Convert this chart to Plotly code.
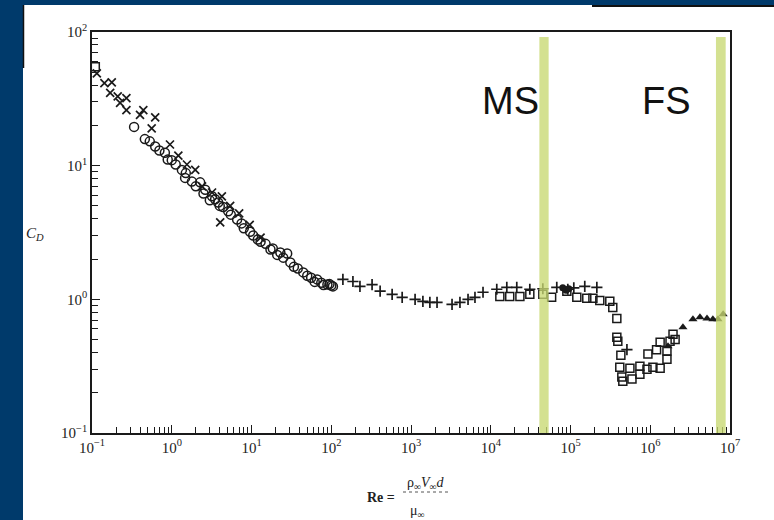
import math
import plotly.graph_objects as go

# Drag coefficient of a circular cylinder versus Reynolds number

# "x" symbols (low Re)
cross_re = [0.115, 0.143, 0.177, 0.169, 0.21, 0.225, 0.27, 0.27, 0.44, 0.40, 0.62, 0.56,
            0.95, 1.21, 1.55, 1.97, 2.4, 3.2, 4.25, 5.4, 4.05, 7.0, 9.5, 13.0]
cross_cd = [49, 41.4, 42, 35, 33, 29.5, 32, 26, 26, 24, 23, 19,
            14.4, 11.9, 10.2, 9.3, 7.0, 6.3, 5.9, 5.0, 3.76, 4.4, 3.6, 2.9]

# open circles
circle_re = [0.337, 0.46, 0.53, 0.62, 0.82, 0.89, 1.12, 1.34, 1.47, 1.79, 2.27, 2.63,
             3.2, 3.82, 4.4, 5.1, 6.6, 9.6, 13.0, 17.3, 23.0, 30.7, 44.6, 66.5, 89.5, 105,
             0.7, 1.0, 1.5, 2.0, 2.5, 3.0, 3.5, 4.0, 5.5, 7.5, 8.0, 10.5, 12.0, 15.0, 18.5,
             21.0, 25.0, 28.0, 34.0, 38.0, 50.0, 56.0, 62.0, 75.0, 80.0, 95.0, 100.0]
circle_cd = [19.5, 15.8, 15.2, 13.9, 12.5, 11.1, 10.2, 9.3, 8.1, 7.6, 7.5, 6.6,
             5.9, 5.3, 4.9, 4.56, 3.95, 3.2, 2.7, 2.36, 2.24, 1.89, 1.59, 1.41, 1.29, 1.25,
             13.0, 11.0, 8.8, 7.0, 6.2, 5.5, 5.6, 5.0, 4.3, 3.7, 3.4, 3.0, 2.8, 2.6, 2.4,
             2.15, 2.05, 2.2, 1.75, 1.7, 1.5, 1.45, 1.35, 1.33, 1.28, 1.3, 1.27]

# "+" symbols (intermediate Re)
plus_re = [140, 187, 229, 325, 410, 580, 775, 1125, 1410, 1725, 2120, 3270, 4110,
           5190, 6340, 8000, 11900, 15900, 21200, 30900, 45000, 67300, 92500, 110000,
           151000, 214000, 510000]
plus_cd = [1.41, 1.36, 1.25, 1.29, 1.15, 1.09, 1.035, 1.0, 0.966, 0.95, 0.95, 0.918, 0.95,
           1.0, 1.035, 1.13, 1.19, 1.23, 1.23, 1.19, 1.2, 1.23, 1.19, 1.22,
           1.25, 1.23, 0.42]

# open squares (high Re, drag crisis)
square_re = [0.11, 13000, 17300, 23200, 30900, 45000, 58000, 90000, 120000, 160000, 191000,
             233000, 311000, 339000, 381000, 381000, 392000, 428000, 415000, 440000,
             453000, 590000, 556000, 742000, 742000, 910000, 935000, 1.08e6, 1.2e6,
             1.33e6, 1.33e6, 1.62e6, 1.62e6, 1.77e6, 1.93e6, 2.05e6]
square_cd = [55, 1.05, 1.05, 1.05, 1.09, 1.09, 1.035, 1.15, 1.035, 1.02, 1.02,
             0.98, 0.966, 0.87, 0.72, 0.52, 0.486, 0.382, 0.311, 0.262,
             0.244, 0.253, 0.305, 0.275, 0.316, 0.30, 0.39, 0.31, 0.42,
             0.305, 0.478, 0.357, 0.41, 0.486, 0.548, 0.50]

# filled triangles (supercritical)
tri_re = [1.67e6, 2.57e6, 3.43e6, 4.2e6, 5.15e6, 6.1e6, 7.07e6, 8.2e6]
tri_cd = [0.446, 0.618, 0.71, 0.734, 0.72, 0.71, 0.71, 0.773]

# filled circles
dot_re = [80000, 88000, 95000]
dot_cd = [1.22, 1.17, 1.2]

# Reynolds-number bands of the two test facilities
ms_band = [40700, 53200]
fs_band = [6.67e6, 8.83e6]

x_tickvals = [1e-1, 1e0, 1e1, 1e2, 1e3, 1e4, 1e5, 1e6, 1e7]
x_ticktext = ["10<sup>−1</sup>", "10<sup>0</sup>", "10<sup>1</sup>", "10<sup>2</sup>",
              "10<sup>3</sup>", "10<sup>4</sup>", "10<sup>5</sup>", "10<sup>6</sup>",
              "10<sup>7</sup>"]
y_tickvals = [1e-1, 1e0, 1e1, 1e2]
y_ticktext = ["10<sup>−1</sup>", "10<sup>0</sup>", "10<sup>1</sup>", "10<sup>2</sup>"]

X_RANGE = [-1, 7]
Y_RANGE = [-1, 2]

# pixel frame of the plotting area
W, H = 774, 520
L, R, T, B = 92, 44, 32, 87
PW, PH = W - L - R, H - T - B


def px_x(p):
    return (p - L) / PW


def px_y(p):
    return (H - B - p) / PH


def re_to_paper(v):
    return (math.log10(v) - X_RANGE[0]) / (X_RANGE[1] - X_RANGE[0])


INK = "#1a1a1a"
fig = go.Figure()


def add(xs, ys, symbol, size, lw=1.6):
    fig.add_trace(go.Scatter(
        x=xs, y=ys, mode="markers",
        marker=dict(symbol=symbol, size=size, color=INK,
                    line=dict(color=INK, width=lw)),
        showlegend=False, hoverinfo="skip"))


add(circle_re, circle_cd, "circle-open", 9, 1.5)
add(cross_re, cross_cd, "x-thin", 8, 1.7)
add(plus_re, plus_cd, "cross-thin", 8, 1.7)
add(square_re, square_cd, "square-open", 8, 1.5)
add(tri_re, tri_cd, "triangle-up", 8, 0)
add(dot_re, dot_cd, "circle", 7, 0)

shapes = []
# frame of the slide
navy = "#003A6B"
shapes.append(dict(type="rect", xref="paper", yref="paper", layer="above",
                   x0=px_x(0), x1=px_x(23), y0=px_y(H), y1=px_y(0),
                   fillcolor=navy, line=dict(width=0)))
shapes.append(dict(type="rect", xref="paper", yref="paper", layer="above",
                   x0=px_x(0), x1=px_x(W), y0=px_y(5), y1=px_y(0),
                   fillcolor=navy, line=dict(width=0)))
shapes.append(dict(type="line", xref="paper", yref="paper", layer="above",
                   x0=px_x(23.5), x1=px_x(23.5), y0=px_y(5), y1=px_y(68),
                   line=dict(color="#111", width=1.5)))
shapes.append(dict(type="line", xref="paper", yref="paper", layer="above",
                   x0=px_x(592), x1=px_x(W), y0=px_y(6), y1=px_y(6),
                   line=dict(color="#111", width=2)))

# highlighted bands
for lo, hi in (ms_band, fs_band):
    shapes.append(dict(type="rect", xref="paper", yref="paper", layer="above",
                       x0=re_to_paper(lo), x1=re_to_paper(hi),
                       y0=0, y1=px_y(37), opacity=0.78,
                       fillcolor="#C8D972", line=dict(width=0)))

# fraction bar of the Reynolds-number definition
shapes.append(dict(type="line", xref="paper", yref="paper",
                   x0=px_x(403), x1=px_x(450), y0=px_y(492), y1=px_y(492),
                   line=dict(color="#555", width=1, dash="dot")))

serif = "Liberation Serif"


def label(text, cx, cy, family, size, color="#222"):
    return dict(text=text, x=px_x(cx), y=px_y(cy), xref="paper", yref="paper",
                xanchor="center", yanchor="middle", showarrow=False,
                font=dict(family=family, size=size, color=color))


annotations = [
    label("MS", 510, 101, "Liberation Sans", 38, "#111"),
    label("FS", 666, 101, "Liberation Sans", 38, "#111"),
    label("<i>C<sub>D</sub></i>", 35, 234, serif, 15),
    label("<b>Re =</b>", 381, 497, serif, 14),
    label("ρ<sub>∞</sub><i>V</i><sub>∞</sub><i>d</i>", 426, 483, serif, 14),
    label("μ<sub>∞</sub>", 417, 511, serif, 14),
]

axis_common = dict(
    showline=True, linecolor=INK, linewidth=1.5, mirror=True,
    showgrid=False, zeroline=False,
    ticks="inside", ticklen=8, tickcolor=INK, tickwidth=1.2,
    tickfont=dict(family=serif, size=15, color="#222"),
)

fig.update_layout(
    width=W, height=H,
    margin=dict(l=L, r=R, t=T, b=B, pad=0),
    paper_bgcolor="white", plot_bgcolor="white",
    xaxis=dict(type="log", range=X_RANGE, tickmode="array",
               tickvals=x_tickvals, ticktext=x_ticktext,
               minor=dict(ticks="inside", ticklen=6, tickcolor=INK, tickwidth=1,
                          dtick="D1", showgrid=False),
               **axis_common),
    yaxis=dict(type="log", range=Y_RANGE, tickmode="array",
               tickvals=y_tickvals, ticktext=y_ticktext,
               minor=dict(ticks="inside", ticklen=6, tickcolor=INK, tickwidth=1,
                          dtick="D1", showgrid=False),
               **axis_common),
    shapes=shapes,
    annotations=annotations,
)

fig.write_html("out.html")
